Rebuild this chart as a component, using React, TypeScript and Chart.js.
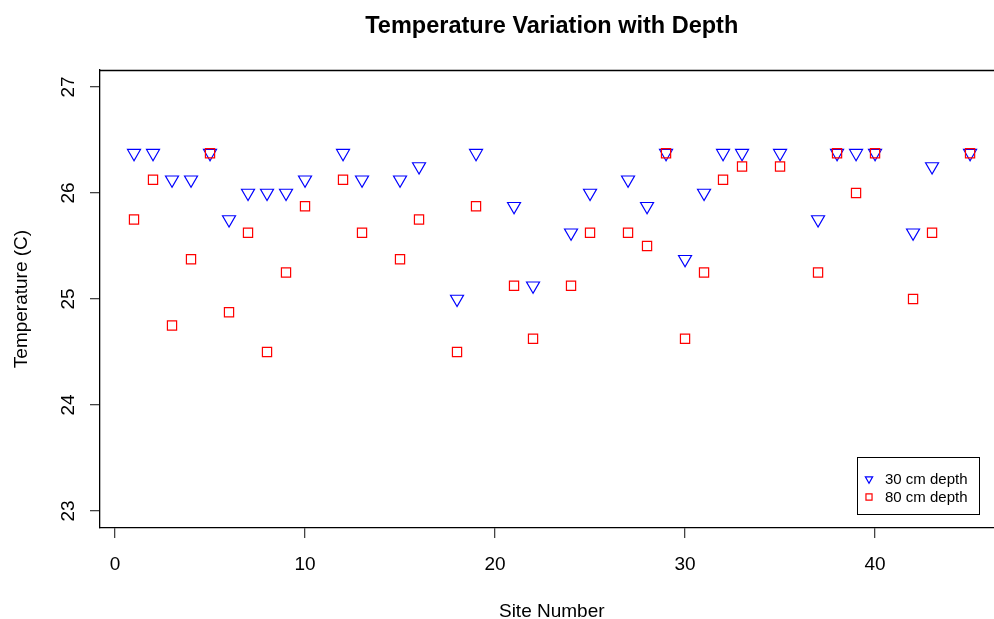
import React, { useEffect, useRef } from 'react';
import { Chart, registerables } from 'chart.js';
import { drawPoint } from 'chart.js/helpers';

Chart.register(...registerables);

const TITLE = 'Temperature Variation with Depth';
const X_LABEL = 'Site Number';
const Y_LABEL = 'Temperature (C)';
const LEGEND_LABELS = ['30 cm depth', '80 cm depth'];

const sites = [1, 2, 3, 4, 5, 6, 7, 8, 9, 10, 12, 13, 15, 16, 18, 19, 21, 22, 24, 25, 27, 28, 29, 30, 31, 32, 33, 35, 37, 38, 39, 40, 42, 43, 45];
const temp30 = [26.375, 26.375, 26.125, 26.125, 26.375, 25.75, 26.0, 26.0, 26.0, 26.125, 26.375, 26.125, 26.125, 26.25, 25.0, 26.375, 25.875, 25.125, 25.625, 26.0, 26.125, 25.875, 26.375, 25.375, 26.0, 26.375, 26.375, 26.375, 25.75, 26.375, 26.375, 26.375, 25.625, 26.25, 26.375];
const temp80 = [25.75, 26.125, 24.75, 25.375, 26.375, 24.875, 25.625, 24.5, 25.25, 25.875, 26.125, 25.625, 25.375, 25.75, 24.5, 25.875, 25.125, 24.625, 25.125, 25.625, 25.625, 25.5, 26.375, 24.625, 25.25, 26.125, 26.25, 26.25, 25.25, 26.375, 26.0, 26.375, 25.0, 25.625, 26.375];

const xTicks = [0, 10, 20, 30, 40];
const yTicks = [23, 24, 25, 26, 27];

const X_MIN = -0.79;
const X_MAX = 46.26;
const X_FULL_MAX = 46.76;
const Y_MIN = 22.84;
const Y_MAX = 27.16;

const FONT = '"Liberation Sans", Arial, sans-serif';

const BLUE = '#0000FF';
const RED = '#FF0000';

const rPlugin = {
  id: 'rStyle',
  afterDraw(chart: any) {
    const ctx = chart.ctx;
    const area = chart.chartArea;
    const xs = chart.scales.x;
    const ys = chart.scales.y;
    ctx.save();
    // top border of the box
    ctx.strokeStyle = '#000';
    ctx.lineWidth = 1.3;
    ctx.beginPath();
    ctx.moveTo(area.left, area.top + 0.5);
    ctx.lineTo(area.right, area.top + 0.5);
    ctx.stroke();

    const centerX = xs.getPixelForValue((X_MIN + X_FULL_MAX) / 2);
    // title
    ctx.fillStyle = '#000';
    ctx.font = `bold 23.5px ${FONT}`;
    ctx.textAlign = 'center';
    ctx.textBaseline = 'alphabetic';
    ctx.fillText(TITLE, centerX, 33);

    // x label
    ctx.font = `19px ${FONT}`;
    ctx.fillText(X_LABEL, centerX, 617);

    // y label
    ctx.save();
    ctx.translate(22, (area.top + area.bottom) / 2);
    ctx.rotate(-Math.PI / 2);
    ctx.textBaseline = 'middle';
    ctx.fillText(Y_LABEL, 0, 0);
    ctx.restore();

    // y tick labels (rotated, R style)
    ys.ticks.forEach((t: any) => {
      const py = ys.getPixelForValue(t.value);
      ctx.save();
      ctx.translate(69, py);
      ctx.rotate(-Math.PI / 2);
      ctx.textAlign = 'center';
      ctx.textBaseline = 'middle';
      ctx.font = `19px ${FONT}`;
      ctx.fillText(String(t.value), 0, 0);
      ctx.restore();
    });

    // legend
    const lx = 857;
    const ly = 457;
    const lw = 122;
    const lh = 57;
    ctx.strokeStyle = '#000';
    ctx.lineWidth = 1;
    ctx.strokeRect(lx + 0.5, ly + 0.5, lw, lh);
    const rows = [ly + 22, ly + 40];
    const styles = [
      { pointStyle: 'triangle', rotation: 180, radius: 4.2, borderWidth: 1.2, color: BLUE },
      { pointStyle: 'rect', rotation: 0, radius: 4.3, borderWidth: 1.2, color: RED },
    ];
    styles.forEach((s, i) => {
      ctx.strokeStyle = s.color;
      ctx.fillStyle = 'rgba(0,0,0,0)';
      ctx.lineWidth = s.borderWidth;
      drawPoint(ctx, { pointStyle: s.pointStyle as any, rotation: s.rotation, radius: s.radius, borderWidth: s.borderWidth }, lx + 12, rows[i]);
      ctx.fillStyle = '#000';
      ctx.font = `15px ${FONT}`;
      ctx.textAlign = 'left';
      ctx.textBaseline = 'middle';
      ctx.fillText(LEGEND_LABELS[i], lx + 28, rows[i] + 1);
    });
    ctx.restore();
  },
};

export default function App() {
  const ref = useRef<HTMLCanvasElement>(null);
  useEffect(() => {
    if (!ref.current) return;
    const chart = new Chart(ref.current, {
      type: 'scatter',
      data: {
        datasets: [
          {
            label: LEGEND_LABELS[0],
            data: sites.map((s, i) => ({ x: s, y: temp30[i] })),
            pointStyle: 'triangle',
            rotation: 180,
            radius: 7.5,
            borderColor: BLUE,
            backgroundColor: 'rgba(0,0,0,0)',
            borderWidth: 1.2,
            order: 1,
          },
          {
            label: LEGEND_LABELS[1],
            data: sites.map((s, i) => ({ x: s, y: temp80[i] })),
            pointStyle: 'rect',
            radius: 6.5,
            borderColor: RED,
            backgroundColor: 'rgba(0,0,0,0)',
            borderWidth: 1.2,
            order: 0,
          },
        ],
      },
      options: {
        responsive: false,
        animation: false,
        devicePixelRatio: 1,
        layout: { padding: { top: 70, left: 0, right: 0, bottom: 0 }, autoPadding: false },
        plugins: {
          legend: { display: false },
          title: { display: false },
          tooltip: { enabled: false },
        },
        scales: {
          x: {
            type: 'linear',
            min: X_MIN,
            max: X_MAX,
            afterBuildTicks: (s: any) => {
              s.ticks = xTicks.map((v) => ({ value: v }));
            },
            afterFit: (s: any) => {
              s.height = 91;
              s.paddingLeft = 0;
              s.paddingRight = 0;
            },
            grid: { display: true, drawOnChartArea: false, drawTicks: true, tickLength: 10, color: '#444', lineWidth: 1.3 },
            border: { display: true, color: '#000', width: 1.3 },
            ticks: { font: { family: FONT, size: 19 }, color: '#000', padding: 15, maxRotation: 0, minRotation: 0 },
          },
          y: {
            type: 'linear',
            min: Y_MIN,
            max: Y_MAX,
            afterBuildTicks: (s: any) => {
              s.ticks = yTicks.map((v) => ({ value: v }));
            },
            afterFit: (s: any) => {
              s.width = 100;
              s.paddingTop = 0;
              s.paddingBottom = 0;
            },
            grid: { display: true, drawOnChartArea: false, drawTicks: true, tickLength: 10, color: '#444', lineWidth: 1.3 },
            border: { display: true, color: '#000', width: 1.3 },
            ticks: { display: false },
          },
        },
      },
      plugins: [rPlugin],
    });
    return () => chart.destroy();
  }, []);
  return (
    <div style={{ position: 'fixed', left: 0, top: 0, width: 994, height: 619, background: '#fff' }}>
      <canvas ref={ref} width={994} height={619} style={{ display: 'block', width: 994, height: 619 }} />
    </div>
  );
}
